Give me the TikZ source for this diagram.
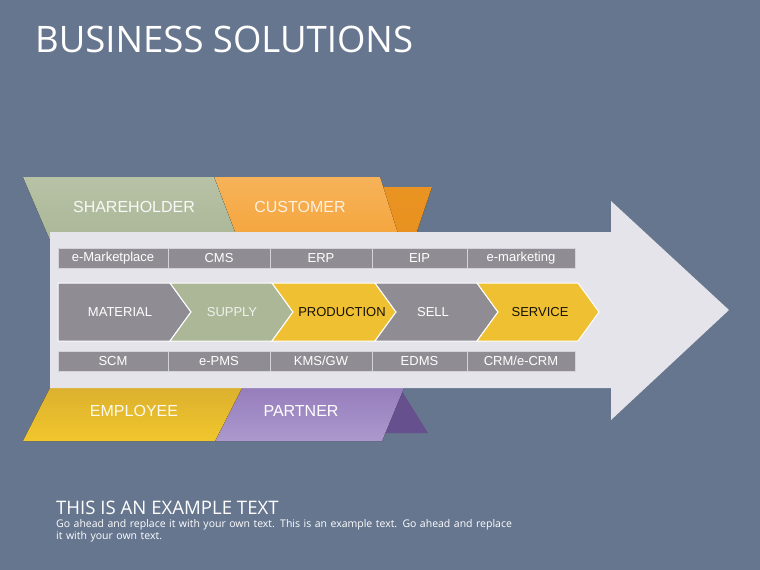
\documentclass[tikz,border=0pt]{standalone}
\usepackage{fontspec}
\setmainfont{Liberation Sans}
\newfontfamily\headfont{Open Sans}
\definecolor{bgslate}{HTML}{66768F}
\definecolor{arrowgray}{HTML}{E4E4EA}
\definecolor{cellgray}{HTML}{8F8D93}
\definecolor{sagegreen}{HTML}{ABB797}
\definecolor{orangeA}{HTML}{F5A53C}
\definecolor{orangeB}{HTML}{E8911F}
\definecolor{goldA}{HTML}{EFC032}
\definecolor{lilac}{HTML}{9E86C4}
\definecolor{plum}{HTML}{66508E}
\tikzset{
	cellbox/.style={fill=cellgray,draw=arrowgray!80!cellgray,line width=1pt,inner sep=0pt,minimum height=20pt,text=white,font=\fontsize{13}{13}\selectfont},
	banner/.style={font=\fontsize{16}{16}\selectfont},
	chevtext/.style={font=\fontsize{13}{13}\selectfont}
}
\newcommand{\chevron}[4]{% left x, right x, fill, flat left?
	\fill[#3,draw=white,line width=1pt] (#1,283) -- (#2,283) -- (#2+21,312) -- (#2,341) -- (#1,341)
		\ifnum#4=1 \else -- (#1+21,312) \fi -- cycle;
}
\begin{document}
\begin{tikzpicture}[x=1pt,y=-1pt]
	\fill[bgslate] (0,0) rectangle (760,570);
	\useasboundingbox (0,0) rectangle (760,570);
	\node[anchor=base west,text=white,font=\headfont\fontsize{36.5}{36.5}\selectfont,inner sep=0pt] (title) at (35,52) {BUSINESS SOLUTIONS};
	% top banners
	\fill[top color=orangeB!90!orangeA,bottom color=orangeB] (383,187) -- (432,187) -- (414,240) -- (398,240) -- cycle;
	\fill[top color=orangeA!85!white,bottom color=orangeA] (214,177) -- (380,177) -- (400,240) -- (238,240) -- cycle;
	\fill[top color=sagegreen!85!white,bottom color=sagegreen] (23,177) -- (214,177) -- (238,240) -- (50,240) -- cycle;
	\node[banner,text=white!92!sagegreen] (holder) at (134,207) {SHAREHOLDER};
	\node[banner,text=white!85!orangeA] (customer) at (300,207) {CUSTOMER};
	% bottom banners
	\fill[plum] (400,388) -- (428,433) -- (385,433) -- cycle;
	\fill[top color=lilac!85!plum,bottom color=lilac!85!white] (242,388) -- (404,388) -- (382,441) -- (215,441) -- cycle;
	\fill[top color=goldA!92!black,bottom color=goldA!90!yellow] (50,388) -- (242,388) -- (215,441) -- (23,441) -- cycle;
	\node[banner,text=white!90!goldA] (employee) at (134,411) {EMPLOYEE};
	\node[banner,text=white] (partner) at (301,411) {PARTNER};
	% big arrow
	\fill[arrowgray] (50,232) -- (611,232) -- (611,201) -- (729,310) -- (611,420) -- (611,388) -- (50,388) -- cycle;
	% systems rows
	\foreach \a/\b/\t [count=\i] in {58/168/e-Marketplace,168/270/CMS,270/372/ERP,372/467/EIP,467/575/e-marketing}
		\node[cellbox,minimum width={(\b-\a)*1pt}] (top\i) at ({(\a+\b)/2},258) {\t};
	\foreach \a/\b/\t [count=\i] in {58/168/SCM,168/270/e-PMS,270/372/{KMS/GW},372/467/EDMS,467/575/{CRM/e-CRM}}
		\node[cellbox,minimum width={(\b-\a)*1pt}] (low\i) at ({(\a+\b)/2},361) {\t};
	% process chevrons
	\chevron{58}{170}{cellgray}{1}
	\chevron{170}{272}{sagegreen}{0}
	\chevron{272}{375}{goldA}{0}
	\chevron{375}{477}{cellgray}{0}
	\chevron{477}{578}{goldA}{0}
	\node[chevtext,text=white] (material) at (120,312) {MATERIAL};
	\node[chevtext,text=white!80!sagegreen] (supply) at (232,312) {SUPPLY};
	\node[chevtext,text=black!90!goldA] (production) at (342,312) {PRODUCTION};
	\node[chevtext,text=white] (sell) at (433,312) {SELL};
	\node[chevtext,text=black!90!goldA] (service) at (540,312) {SERVICE};
	% footer text
	\node[anchor=base west,text=white,font=\headfont\fontsize{18.6}{18.6}\selectfont,inner sep=0pt] (example) at (56,514) {THIS IS AN EXAMPLE TEXT};
	\node[anchor=north west,text=white,font=\headfont\fontsize{10.5}{12}\selectfont,inner sep=0pt,text width=462pt,align=left] (body) at (56,519)
		{Go ahead and replace it with your own text. This is an example text. Go ahead and replace it with your own text.};
\end{tikzpicture}
\end{document}
